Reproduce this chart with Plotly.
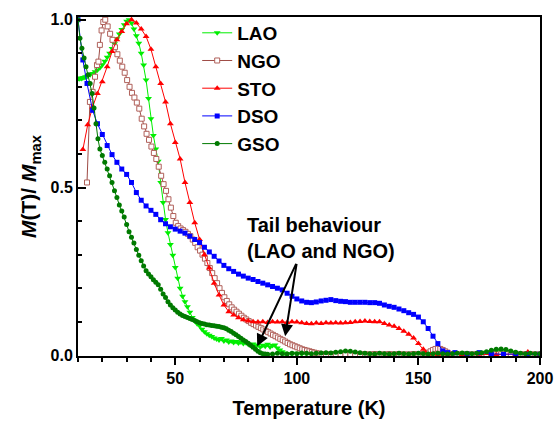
import plotly.graph_objects as go

# ---------------- data ----------------
lao_T = [10, 10.5, 11, 11.5, 12, 12.5, 13, 13.5, 14, 15, 16, 17, 18, 19, 20, 21, 22, 23, 24, 25,
         26, 27, 28, 29, 30, 31, 32, 33, 34, 35, 36, 37, 38, 39, 40, 41, 42, 43, 44, 45,
         46, 47, 48, 49, 50, 51, 52, 53, 54, 55, 56, 57, 58, 59, 60, 61, 62, 63, 64, 65,
         66, 67, 68, 69, 70, 71, 72, 73, 74, 75, 76, 77, 78, 79, 80, 81, 82, 83, 84, 85,
         86, 87, 88, 89, 90, 91, 92, 93, 94, 95, 96, 98, 100, 102, 104, 106, 108, 110, 112, 114,
         116, 118, 120, 122, 124, 126, 128, 130, 132, 134, 136, 138, 140, 142, 144, 146, 148, 150, 152, 154,
         156, 158, 160, 162, 164, 166, 168, 170, 172, 174, 176, 178, 180, 182, 184, 186, 188, 190, 192, 194,
         196, 198, 200]
lao_M = [0.825, 0.824, 0.826, 0.825, 0.827, 0.828, 0.829, 0.830, 0.832, 0.836, 0.840, 0.845, 0.850, 0.857, 0.866, 0.876, 0.888, 0.900, 0.914, 0.928,
         0.943, 0.957, 0.971, 0.985, 0.995, 1.000, 0.990, 0.972, 0.952, 0.930, 0.900, 0.865, 0.820, 0.765, 0.705, 0.655, 0.615, 0.578, 0.515, 0.455,
         0.405, 0.365, 0.330, 0.298, 0.262, 0.230, 0.200, 0.176, 0.160, 0.145, 0.128, 0.113, 0.102, 0.094, 0.088, 0.078, 0.070, 0.064, 0.060, 0.056,
         0.052, 0.049, 0.046, 0.050, 0.043, 0.046, 0.040, 0.043, 0.038, 0.041, 0.037, 0.040, 0.035, 0.038, 0.033, 0.030, 0.034, 0.028, 0.031, 0.025,
         0.030, 0.027, 0.033, 0.025, 0.029, 0.031, 0.022, 0.016, 0.011, 0.007, 0.005, 0.004, 0.006, 0.004, 0.005, 0.003, 0.006, 0.005, 0.004, 0.006,
         0.005, 0.007, 0.006, 0.005, 0.004, 0.006, 0.005, 0.004, 0.003, 0.005, 0.004, 0.006, 0.005, 0.004, 0.003, 0.004, 0.005, 0.004, 0.003, 0.004,
         0.005, 0.004, 0.003, 0.004, 0.005, 0.004, 0.005, 0.006, 0.005, 0.006, 0.007, 0.009, 0.011, 0.013, 0.014, 0.012, 0.009, 0.006, 0.005, 0.004,
         0.005, 0.004, 0.004]

ngo_T = [13.7, 14.9, 16.0, 17.0, 17.8, 18.4, 19.0, 19.7, 20.4, 21.2, 22.2, 23.2, 24.2, 25.2, 26.2, 27.2, 28.2, 29.2, 30.2, 31.2,
         32.2, 33.2, 34.2, 35.2, 36.2, 37.2, 38.2, 39.2, 40.2, 41.2, 42.2, 43.2, 44.2, 45.2, 46.2, 47.2, 48.2, 49.2, 50.2, 51.2,
         52.2, 53.2, 54.2, 55.2, 56.2, 57.2, 58.2, 59.2, 60.2, 61.2, 62.2, 63.2, 64.2, 65.2, 66.2, 67.2, 68.2, 69.2, 70.2, 71.2,
         72.2, 73.2, 74.2, 75.2, 76.2, 77.2, 78.2, 79.2, 80.2, 81.2, 82.2, 83.2, 84.2, 85.2, 86.2, 87.2, 88.2, 89.2, 90.2, 91.2,
         92.2, 93.2, 94.2, 95.2, 96.2, 97.2, 98.2, 99.2, 100.2, 101.2, 102.2, 103.2, 104.2, 105.2, 106.2, 107.2, 108.2, 109.2, 110.2, 112,
         114, 116, 118, 120, 122, 124, 126, 128, 130, 132, 134, 136, 138, 140, 142, 144, 146, 148, 150, 152,
         154, 155, 156, 157, 158, 159, 160, 161, 162, 164, 166, 168, 170, 172, 174, 176, 178, 180, 182, 184,
         186, 188, 190, 192, 194, 196, 198, 200]
ngo_M = [0.515, 0.755, 0.785, 0.830, 0.865, 0.875, 0.925, 0.968, 0.993, 1.000, 0.980, 0.958, 0.940, 0.918, 0.897, 0.878, 0.860, 0.842, 0.820, 0.800,
         0.782, 0.768, 0.753, 0.735, 0.705, 0.682, 0.660, 0.642, 0.622, 0.603, 0.585, 0.562, 0.535, 0.510, 0.490, 0.465, 0.440, 0.415, 0.395, 0.385,
         0.378, 0.373, 0.368, 0.362, 0.355, 0.345, 0.335, 0.322, 0.312, 0.300, 0.288, 0.275, 0.260, 0.245, 0.230, 0.215, 0.200, 0.186, 0.173, 0.162,
         0.152, 0.143, 0.136, 0.130, 0.124, 0.118, 0.112, 0.107, 0.102, 0.097, 0.093, 0.089, 0.085, 0.081, 0.077, 0.073, 0.069, 0.065, 0.061, 0.057,
         0.053, 0.049, 0.045, 0.041, 0.037, 0.033, 0.030, 0.027, 0.024, 0.021, 0.018, 0.016, 0.014, 0.012, 0.010, 0.008, 0.006, 0.005, 0.004, 0.003,
         0.004, 0.003, 0.004, 0.003, 0.004, 0.003, 0.003, 0.004, 0.003, 0.004, 0.003, 0.003, 0.004, 0.003, 0.004, 0.003, 0.003, 0.004, 0.003, 0.004,
         0.008, 0.012, 0.016, 0.019, 0.020, 0.019, 0.016, 0.012, 0.008, 0.004, 0.003, 0.003, 0.003, 0.003, 0.003, 0.003, 0.003, 0.003, 0.003, 0.003,
         0.003, 0.003, 0.003, 0.003, 0.003, 0.003, 0.003, 0.003]

sto_T = [12, 14, 16, 18, 20, 22, 24, 26, 28, 30, 32, 34, 36, 38, 40, 42, 44, 46, 48, 50,
         52, 54, 56, 58, 60, 62, 64, 66, 68, 70, 72, 74, 76, 78, 80, 82, 84, 86, 88, 90,
         92, 94, 96, 98, 100, 102, 104, 106, 108, 110, 112, 114, 116, 118, 120, 122, 124, 126, 128, 130,
         132, 134, 136, 138, 140, 142, 144, 146, 148, 150, 152, 153, 155, 158, 162, 168, 175, 182, 190, 195,
         200]
sto_M = [0.613, 0.687, 0.740, 0.780, 0.815, 0.860, 0.905, 0.940, 0.965, 0.988, 1.000, 0.990, 0.972, 0.950, 0.912, 0.860, 0.810, 0.755, 0.690, 0.634,
         0.585, 0.515, 0.455, 0.395, 0.345, 0.300, 0.260, 0.215, 0.180, 0.150, 0.130, 0.120, 0.112, 0.106, 0.102, 0.100, 0.099, 0.100, 0.098, 0.100,
         0.099, 0.100, 0.098, 0.100, 0.099, 0.097, 0.095, 0.094, 0.096, 0.095, 0.097, 0.096, 0.097, 0.096, 0.097, 0.098, 0.100, 0.101, 0.102, 0.101,
         0.100, 0.100, 0.095, 0.090, 0.087, 0.080, 0.072, 0.063, 0.052, 0.035, 0.018, 0.008, 0.003, 0.002, 0.003, 0.002, 0.003, 0.002, 0.004, 0.010,
         0.003]

dso_T = [10, 12, 13.7, 16, 18, 20, 22, 24, 26, 28, 30, 32, 34, 36, 38, 40, 42, 44, 46, 48,
         50, 52, 54, 56, 58, 60, 62, 64, 66, 68, 70, 72, 74, 76, 78, 80, 82, 84, 86, 88,
         90, 92, 94, 96, 98, 100, 102, 104, 106, 108, 110, 112, 114, 116, 118, 120, 122, 124, 126, 128,
         130, 132, 134, 136, 138, 140, 142, 144, 146, 148, 150, 152, 154, 156, 158, 160, 162, 165, 170, 175,
         180, 185, 190, 195, 200]
dso_M = [1.000, 0.880, 0.810, 0.730, 0.690, 0.658, 0.625, 0.598, 0.575, 0.555, 0.539, 0.515, 0.485, 0.462, 0.445, 0.432, 0.420, 0.404, 0.392, 0.383,
         0.376, 0.370, 0.364, 0.355, 0.345, 0.336, 0.322, 0.308, 0.295, 0.281, 0.268, 0.258, 0.250, 0.242, 0.236, 0.230, 0.226, 0.220, 0.215, 0.210,
         0.205, 0.200, 0.195, 0.185, 0.176, 0.168, 0.162, 0.158, 0.157, 0.159, 0.162, 0.164, 0.166, 0.163, 0.161, 0.160, 0.158, 0.158, 0.158, 0.158,
         0.157, 0.157, 0.155, 0.150, 0.146, 0.143, 0.138, 0.133, 0.127, 0.122, 0.114, 0.100, 0.080, 0.057, 0.035, 0.013, 0.008, 0.008, 0.004, 0.008,
         0.004, 0.003, 0.004, 0.003, 0.003]

gso_T = [10, 10.8, 11.6, 12.5, 13.3, 14.2, 15, 15.8, 16.6, 17.4, 18.2, 19, 20, 21, 22, 23, 24, 25, 26, 27,
         28, 29, 30, 31, 32, 33, 34, 35, 36, 37, 38, 39, 40, 41, 42, 43, 44, 45, 46, 47,
         48, 49, 50, 51, 52, 53, 54, 55, 56, 57, 58, 59, 60, 61, 62, 63, 64, 65, 66, 67,
         68, 69, 70, 71, 72, 73, 74, 75, 76, 77, 78, 79, 80, 81, 82, 83, 84, 85, 86, 87,
         88, 90, 92, 94, 96, 98, 100, 102, 104, 106, 108, 110, 112, 114, 116, 118, 120, 122, 124, 126,
         128, 130, 132, 134, 136, 138, 140, 142, 144, 146, 148, 150, 152, 154, 156, 158, 160, 162, 164, 166,
         168, 170, 172, 174, 176, 178, 180, 182, 184, 186, 188, 190, 192, 194, 196, 198, 200]
gso_M = [1.000, 0.945, 0.915, 0.886, 0.860, 0.836, 0.810, 0.780, 0.737, 0.690, 0.645, 0.615, 0.595, 0.575, 0.555, 0.535, 0.515, 0.490, 0.470, 0.448,
         0.430, 0.412, 0.390, 0.368, 0.352, 0.335, 0.315, 0.298, 0.282, 0.266, 0.252, 0.242, 0.234, 0.225, 0.218, 0.210, 0.197, 0.183, 0.172, 0.160,
         0.150, 0.142, 0.135, 0.128, 0.123, 0.119, 0.116, 0.113, 0.110, 0.107, 0.104, 0.100, 0.097, 0.095, 0.093, 0.091, 0.090, 0.089, 0.088, 0.087,
         0.086, 0.084, 0.082, 0.079, 0.075, 0.071, 0.066, 0.061, 0.056, 0.051, 0.046, 0.041, 0.036, 0.030, 0.024, 0.018, 0.012, 0.008, 0.005, 0.004,
         0.003, 0.004, 0.006, 0.005, 0.004, 0.006, 0.005, 0.007, 0.006, 0.005, 0.006, 0.007, 0.008, 0.007, 0.009, 0.011, 0.013, 0.012, 0.010, 0.008,
         0.006, 0.005, 0.004, 0.006, 0.005, 0.004, 0.005, 0.006, 0.005, 0.004, 0.005, 0.006, 0.005, 0.004, 0.005, 0.006, 0.005, 0.004, 0.005, 0.006,
         0.007, 0.006, 0.005, 0.006, 0.008, 0.011, 0.015, 0.018, 0.019, 0.017, 0.013, 0.009, 0.006, 0.005, 0.006, 0.005, 0.005]

x_ticks = [50, 100, 150, 200]
y_ticks = [0.0, 0.5, 1.0]
y_tick_text = ["0.0", "0.5", "1.0"]

series = [
    ("LAO", lao_T, lao_M, "#00EE00", dict(symbol="triangle-down", size=6, color="#00EE00")),
    ("NGO", ngo_T, ngo_M, "#9E4B45", dict(symbol="square", size=5, color="white",
                                          line=dict(color="#B0605A", width=1))),
    ("STO", sto_T, sto_M, "#FF0000", dict(symbol="triangle-up", size=6, color="#FF0000")),
    ("DSO", dso_T, dso_M, "#0000FF", dict(symbol="square", size=5, color="#0000FF")),
    ("GSO", gso_T, gso_M, "#007A00", dict(symbol="circle", size=5, color="#007A00")),
]

FONT = "Arial, Liberation Sans, Helvetica, sans-serif"

fig = go.Figure()
for name, t, m, col, mk in series:
    fig.add_trace(go.Scatter(x=t, y=m, name=name, mode="lines+markers",
                             line=dict(color=col, width=1), marker=mk,
                             legendgroup=name))

fig.update_layout(
    width=556, height=422, autosize=False,
    margin=dict(l=78, r=16, t=17, b=66, autoexpand=False),
    paper_bgcolor="white", plot_bgcolor="white",
    font=dict(family=FONT, color="black"),
    showlegend=True,
    legend=dict(x=0.258, y=1.009, xanchor="left", yanchor="top",
                bgcolor="rgba(0,0,0,0)", tracegroupgap=0,
                font=dict(size=19, family=FONT, weight="bold")),
)

fig.update_xaxes(
    range=[10, 200], tickmode="array", tickvals=x_ticks, automargin=False,
    ticks="outside", ticklen=7, tickwidth=1.5, tickcolor="black",
    minor=dict(dtick=10, tick0=0, ticks="outside", ticklen=4, tickwidth=1.5, tickcolor="black"),
    showline=True, linecolor="black", linewidth=2, mirror=True,
    showgrid=False, zeroline=False,
    tickfont=dict(size=16, family=FONT, weight="bold"),
    title=dict(text="Temperature (K)", font=dict(size=20, family=FONT, weight="bold")),
)
fig.update_yaxes(
    range=[-0.002, 1.008], tickmode="array", tickvals=y_ticks, ticktext=y_tick_text, automargin=False,
    ticks="inside", ticklen=8, tickwidth=1.5, tickcolor="black",
    minor=dict(dtick=0.1, tick0=0, ticks="inside", ticklen=4, tickwidth=1.5, tickcolor="black"),
    showline=True, linecolor="black", linewidth=2, mirror=True,
    showgrid=False, zeroline=False,
    tickfont=dict(size=16, family=FONT, weight="bold"),
    title=dict(text="<i>M</i>(T)/ <i>M</i><sub>max</sub>",
               font=dict(size=21, family=FONT, weight="bold"), standoff=8),
)

# annotation text
fig.add_annotation(x=78.7, y=0.351, xref="x", yref="y", xanchor="left", yanchor="middle",
                   text="Tail behaviour<br>(LAO and NGO)", showarrow=False, align="left",
                   font=dict(size=20, family=FONT, weight="bold", color="black"))
# arrows
arrow_tail = (100.0, 0.277)
arrow_tips = [(83.7, 0.027), (95.2, 0.057)]
for tx, ty in arrow_tips:
    fig.add_annotation(x=tx, y=ty, xref="x", yref="y", ax=arrow_tail[0], ay=arrow_tail[1],
                       axref="x", ayref="y", text="", showarrow=True,
                       arrowhead=2, arrowsize=1.2, arrowwidth=2, arrowcolor="black")

post = ("document.body.style.margin='0px';document.body.style.padding='0px';"
        "document.body.style.overflow='hidden';"
        "var gd=document.getElementById('{plot_id}');"
        "Plotly.relayout(gd,{width:556,height:422});")
fig.write_html("out.html", post_script=post,
               config={"responsive": False, "displayModeBar": False})
